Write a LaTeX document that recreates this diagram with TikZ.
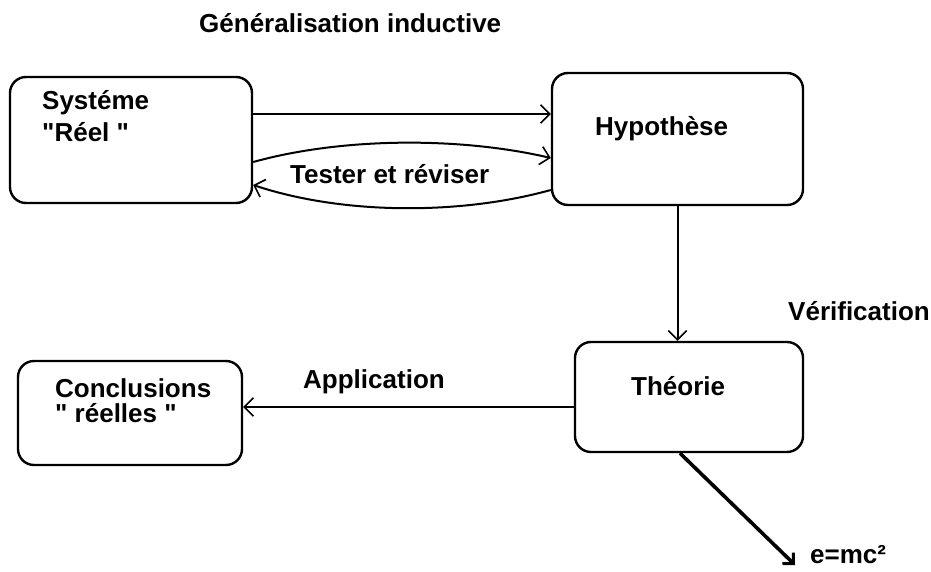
\documentclass[tikz,border=0pt]{standalone}
\usepackage{fontspec}
\setmainfont{Liberation Sans}[Ligatures=TeXOff]
\usetikzlibrary{positioning,arrows.meta}

\tikzset{
  box/.style={draw, line width=2.4pt, rounded corners=16pt, inner sep=0pt},
  txt/.style={font=\bfseries\fontsize{26}{32}\selectfont, inner sep=0pt, align=left, anchor=base west},
  arr/.style={line width=2pt, -{Straight Barb[angle=90:13pt, line width=1.6pt]}},
}

\begin{document}
\begin{tikzpicture}[x=1pt, y=-1pt]
    \useasboundingbox (0,0) rectangle (931,572);
    \node[box, minimum width=242pt, minimum height=126pt] (sys) at (131,140) {};
    \node[box, minimum width=251pt, minimum height=132pt] (hyp) at (677.5,139) {};
    \node[box, minimum width=228pt, minimum height=110pt] (theo) at (689,397) {};
    \node[box, minimum width=224pt, minimum height=104pt] (concl) at (130,413) {};

    \node[txt] (title) at (199,33) {Généralisation inductive};
    \node[txt] (systxt) at (42,142) {Systéme\\"Réel "};
    \node[txt] (hyptxt) at (595,136) {Hypothèse};
    \node[txt] (theotxt) at (631,395) {Théorie};
    \node[txt, font=\bfseries\fontsize{26}{25}\selectfont] (concltxt) at (55,422) {Conclusions\\" réelles "};
    \node[txt] (test) at (290,183) {Tester et réviser};
    \node[txt] (verif) at (788,320) {Vérification};
    \node[txt] (appl) at (303,388) {Application};

    \draw[arr] ([yshift=26pt]sys.east) -- ([yshift=26pt]sys.east -| hyp.west);
    \draw[arr] ([yshift=-22pt]sys.east) .. controls +(90,-25) and +(-90,-21) .. ([yshift=-19pt]hyp.west);
    \draw[arr] ([yshift=-51pt]hyp.west) .. controls +(-90,25) and +(90,30) .. ([yshift=-45pt]sys.east);
    \draw[arr] (hyp.south) -- (hyp.south |- theo.north);
    \draw[arr] ([yshift=-10pt]theo.west) -- ([yshift=-10pt]theo.west -| concl.east);

    \coordinate (emc) at (795,565);
    \draw[line width=3.6pt, -{Straight Barb[angle=90:11pt, line width=3pt]}] ([xshift=-9pt]theo.south) -- (emc);
    \node[txt] (emctxt) at (810,563) {e=mc²};
\end{tikzpicture}
\end{document}
